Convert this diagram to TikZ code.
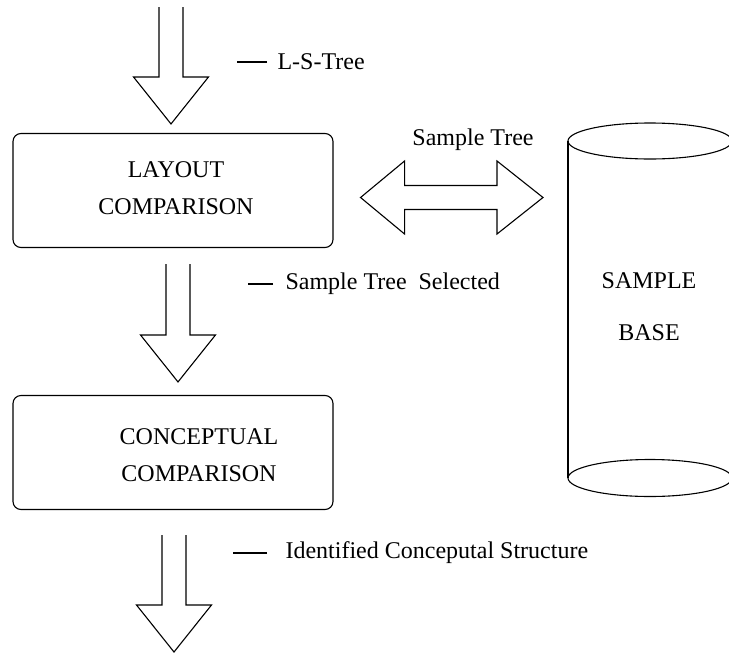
\documentclass[tikz,border=0pt]{standalone}
\usepackage{fontspec}
\setmainfont{Liberation Serif}
\usetikzlibrary{calc}

\tikzset{
  block/.style={draw, rounded corners=8pt, minimum width=320pt, minimum height=114pt},
  boxtext/.style={align=center, inner sep=0pt, font=\fontsize{24}{37}\selectfont},
  lbl/.style={anchor=west, inner sep=0pt, font=\fontsize{24}{28}\selectfont},
}

% hollow arrow pointing down: #1 top of shaft, #2 tip
\newcommand{\fatarrow}[2]{%
  \draw let \p1=(#1), \p2=(#2) in
    (\x1-12pt,\y1) -- (\x1-12pt,\y2+47pt) -- (\x1-37.5pt,\y2+47pt) -- (\x1,\y2)
    -- (\x1+37.5pt,\y2+47pt) -- (\x1+12pt,\y2+47pt) -- (\x1+12pt,\y1);}

\begin{document}
\begin{tikzpicture}[x=1pt,y=-1pt,line width=1.1pt]
    \useasboundingbox (0,0) rectangle (729,654);
    % boxes
    \node[block] (layout) at (173,190.5) {};
    \node[block] (concept) at (173,452.5) {};
    \node[boxtext] (layouttxt) at (176,188.5) {LAYOUT\\COMPARISON};
    \node[boxtext] (concepttxt) at (199,455) {CONCEPTUAL\\COMPARISON};
    % sample base
    \coordinate (topc) at (650,141);
    \coordinate (botc) at (650,478);
    \coordinate (cylleft) at ([xshift=-82pt]topc);
    \draw (topc) ellipse [x radius=82, y radius=18];
    \draw (botc) ellipse [x radius=82, y radius=18.5];
    \draw (cylleft) -- ([xshift=-82pt]botc);
    \draw ([xshift=82pt]topc) -- ([xshift=82pt]botc);
    \node[boxtext] (sample) at (649,281) {SAMPLE};
    \node[boxtext] (basetxt) at (649,333) {BASE};
    % arrows
    \coordinate (in) at (171,7);
    \coordinate (out) at (174,652);
    \fatarrow{in}{[yshift=9pt]layout.north}
    \fatarrow{[xshift=5pt,yshift=-16pt]layout.south}{[yshift=13pt]concept.north}
    \fatarrow{[xshift=1pt,yshift=-25pt]concept.south}{out}
    \coordinate (dl) at ([xshift=27pt,yshift=-7pt]layout.east);
    \coordinate (dr) at ([xshift=-25pt]dl -| cylleft);
    \draw let \p1=(dl), \p2=(dr) in
      (\p1) -- (\x1+44pt,\y1+36.5pt) -- (\x1+44pt,\y1+12pt) -- (\x2-46pt,\y1+12pt)
      -- (\x2-46pt,\y1+36.5pt) -- (\p2) -- (\x2-46pt,\y1-36.5pt) -- (\x2-46pt,\y1-12pt)
      -- (\x1+44pt,\y1-12pt) -- (\x1+44pt,\y1-36.5pt) -- cycle;
    % labels
    \node[lbl] (lst) at (277,62) {L-S-Tree};
    \node[lbl] (sts) at (285,284) {Sample Tree~ Selected};
    \node[lbl] (ics) at (285,553) {Identified Conceputal Structure};
    \node[boxtext] (st) at (473,140) {Sample Tree};
    \draw ([xshift=-10pt]lst.west) -- ++(-30,0);
    \draw ([xshift=-12pt]sts.west) -- ++(-25,0);
    \draw ([xshift=-18pt]ics.west) -- ++(-34,0);
\end{tikzpicture}
\end{document}
